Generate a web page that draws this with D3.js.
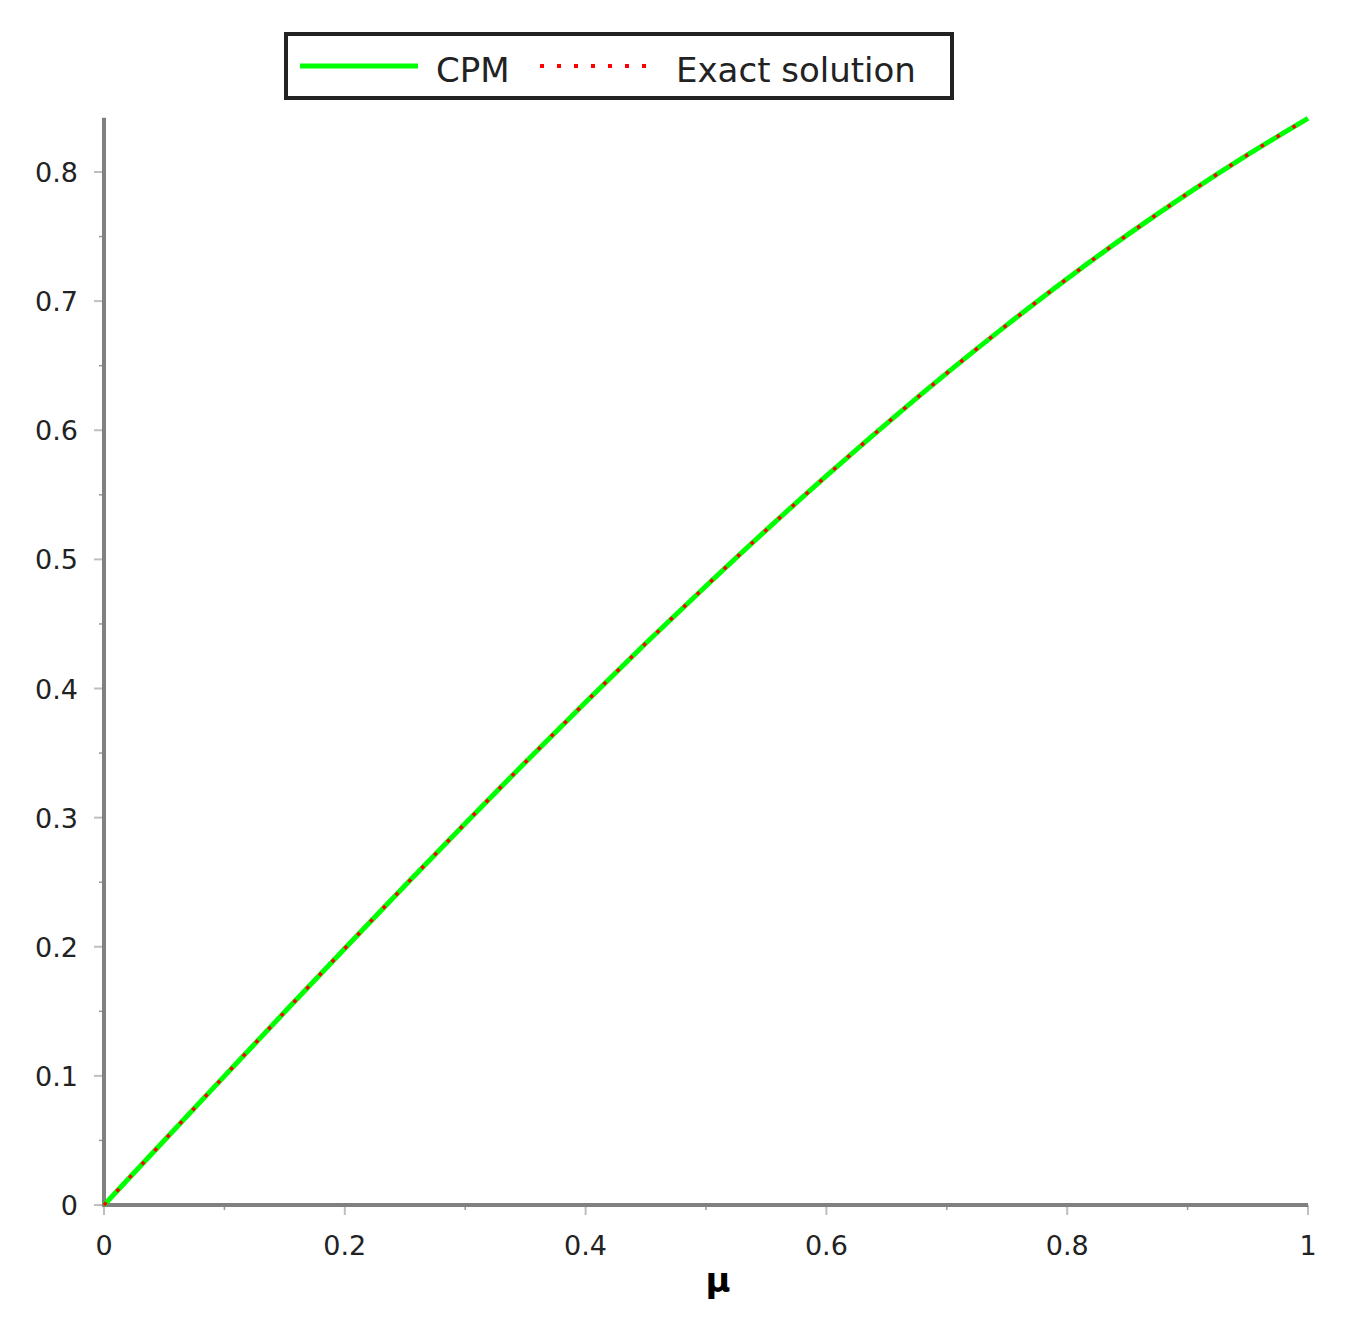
<!DOCTYPE html>
<html><head><meta charset="utf-8">
<script src="https://cdn.jsdelivr.net/npm/d3@7"></script>
<style>body{margin:0;background:#fff}</style></head>
<body><svg id="c" width="1346" height="1321"></svg>
<script>
const muValues = [0,0.05,0.1,0.15,0.2,0.25,0.3,0.35,0.4,0.45,0.5,0.55,0.6,0.65,0.7,0.75,0.8,0.85,0.9,0.95,1];
const cpmValues = [0,0.05,0.0998,0.1494,0.1987,0.2474,0.2955,0.3429,0.3894,0.4350,0.4794,0.5227,0.5646,0.6052,0.6442,0.6816,0.7174,0.7513,0.7833,0.8134,0.8415];
const exactValues = [0,0.05,0.0998,0.1494,0.1987,0.2474,0.2955,0.3429,0.3894,0.4350,0.4794,0.5227,0.5646,0.6052,0.6442,0.6816,0.7174,0.7513,0.7833,0.8134,0.8415];
const xTicks = [0,0.2,0.4,0.6,0.8,1];
const yTicks = [0,0.1,0.2,0.3,0.4,0.5,0.6,0.7,0.8];
const seriesNames = ["CPM","Exact solution"];

const svg = d3.select("#c");
const x = d3.scaleLinear().domain([0,1]).range([104,1308]);
const y = d3.scaleLinear().domain([0,0.8]).range([1205,172]);
const gray="#808080", font="DejaVu Sans";

// axes lines
svg.append("line").attr("x1",x(0)).attr("x2",x(1)).attr("y1",y(0)).attr("y2",y(0)).attr("stroke",gray).attr("stroke-width",4);
svg.append("line").attr("x1",x(0)).attr("x2",x(0)).attr("y1",y(0)+2).attr("y2",y(0.842)).attr("stroke",gray).attr("stroke-width",4);
// x ticks
d3.range(0,1.0001,0.1).forEach(v=>{
  const major = Math.round(v*10)%2===0;
  svg.append("line").attr("x1",x(v)).attr("x2",x(v)).attr("y1",y(0)).attr("y2",y(0)+(major?10:5)).attr("stroke",gray).attr("stroke-width",major?2:1.5).attr("opacity",major?0.5:0.8);
});
d3.range(0,0.8001,0.05).forEach(v=>{
  const major = Math.round(v*100)%10===0;
  svg.append("line").attr("x1",x(0)).attr("x2",x(0)-(major?10:5)).attr("y1",y(v)).attr("y2",y(v)).attr("stroke",gray).attr("stroke-width",major?2:1.5).attr("opacity",major?0.5:0.8);
});
xTicks.forEach(v=>svg.append("text").attr("x",x(v)).attr("y",1255).attr("text-anchor","middle").attr("font-family",font).attr("font-size",27).attr("fill","#222").text(d3.format("")(v)));
yTicks.forEach(v=>svg.append("text").attr("x",78).attr("y",y(v)+10).attr("text-anchor","end").attr("font-family",font).attr("font-size",27).attr("fill","#222").text(d3.format("")(v)));
svg.append("text").attr("x",718).attr("y",1292).attr("text-anchor","middle").attr("font-family",font).attr("font-size",34).attr("font-weight","bold").attr("fill","#000").text("μ");

const line = d3.line().x((d,i)=>x(muValues[i])).y(d=>y(d)).curve(d3.curveMonotoneX);
svg.append("path").attr("d",line(cpmValues)).attr("fill","none").attr("stroke","#00ff00").attr("stroke-width",5);
svg.append("path").attr("d",line(exactValues)).attr("fill","none").attr("stroke","#ff0000").attr("stroke-width",3.5).attr("stroke-dasharray","3.5 15");

// legend
svg.append("rect").attr("x",286).attr("y",34).attr("width",666).attr("height",64).attr("fill","#fff").attr("stroke","#222").attr("stroke-width",4);
svg.append("line").attr("x1",300).attr("x2",418).attr("y1",66).attr("y2",66).attr("stroke","#00ff00").attr("stroke-width",5);
svg.append("text").attr("x",436).attr("y",82).attr("font-family",font).attr("font-size",34).attr("fill","#222").text(seriesNames[0]);
svg.append("line").attr("x1",540).attr("x2",655).attr("y1",66).attr("y2",66).attr("stroke","#ff0000").attr("stroke-width",4).attr("stroke-dasharray","4 13");
svg.append("text").attr("x",676).attr("y",82).attr("font-family",font).attr("font-size",34).attr("fill","#222").text(seriesNames[1]);
</script></body></html>
